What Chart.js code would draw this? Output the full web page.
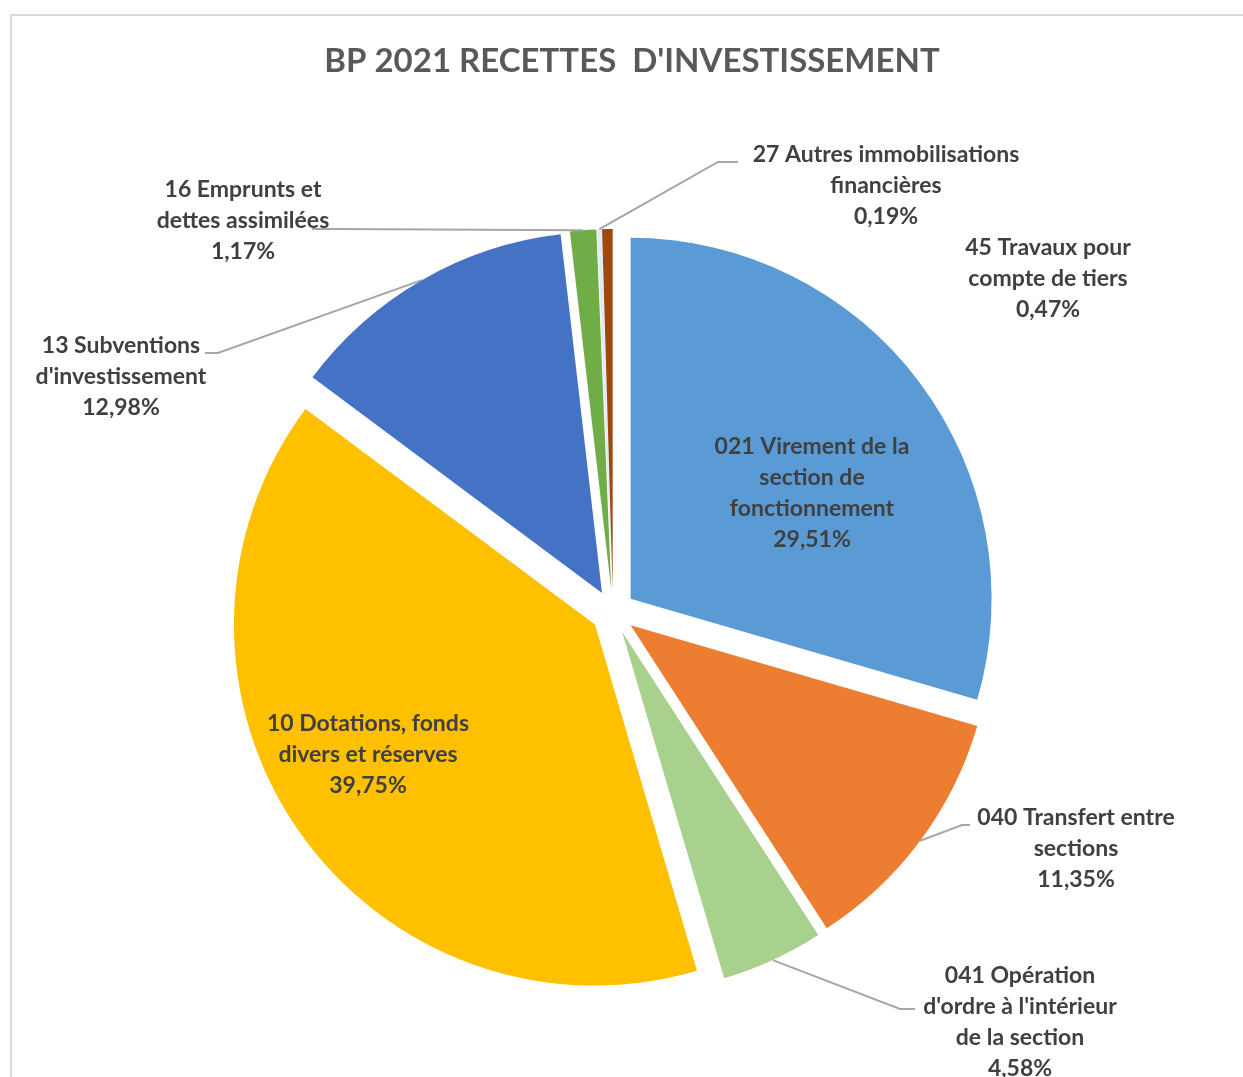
<!DOCTYPE html>
<html lang="fr">
<head>
<meta charset="utf-8">
<title>BP 2021 Recettes d'investissement</title>
<script src="https://cdn.jsdelivr.net/npm/chart.js@4/dist/chart.umd.min.js"></script>
<style>
  html, body { margin: 0; padding: 0; background: #ffffff; }
  #wrap { position: relative; width: 1243px; height: 1077px; }
</style>
</head>
<body>
<div id="wrap"><canvas id="recettesChart"></canvas></div>
<script>
// ---------------------------------------------------------------------------
// Données
// ---------------------------------------------------------------------------
const titre = "BP 2021 RECETTES  D'INVESTISSEMENT";

const categories = [
    "021 Virement de la\nsection de\nfonctionnement",
    "040 Transfert entre\nsections",
    "041 Opération\nd'ordre à l'intérieur\nde la section",
    "10 Dotations, fonds\ndivers et réserves",
    "13 Subventions\nd'investissement",
    "16 Emprunts et\ndettes assimilées",
    "27 Autres immobilisations\nfinancières",
    "45 Travaux pour\ncompte de tiers"
];

const valeurs = [29.51, 11.35, 4.58, 39.75, 12.98, 1.17, 0.19, 0.47];

const couleurs = ['#5B9BD5', '#ED7D31', '#A9D18E', '#FFC000', '#4472C4', '#70AD47', '#DDEBF7', '#9E480E'];

// ---------------------------------------------------------------------------
// Mise en page des étiquettes (texte centré sur x, première ligne à y)
// ---------------------------------------------------------------------------
const EXPLOSION = 22;      // décalage de chaque part (px)
const RAYON = 361;
const INTERLIGNE = 31;

const placement = [
    { x: 812,  y: 447 },
    { x: 1076, y: 818,  coude: [962, 825], fin: [970, 825] },
    { x: 1020, y: 976,  coude: [900, 1009], fin: [915, 1009] },
    { x: 368,  y: 724 },
    { x: 121,  y: 346,  coude: [218, 353], fin: [205, 353] },
    { x: 243,  y: 190,  coude: [335, 229], fin: [312, 229] },
    { x: 886,  y: 155,  coude: [718, 162], fin: [738, 162] },
    { x: 1048, y: 248 }
];

const FONT = 'Lato, "Open Sans", sans-serif';

function formatPct(v, total) {
    return (v / total * 100).toFixed(2).replace('.', ',') + '%';
}

// Cadre + titre
const cadrePlugin = {
    id: 'cadre',
    beforeDraw(chart) {
        const ctx = chart.ctx;
        ctx.save();
        ctx.fillStyle = '#ffffff';
        ctx.fillRect(0, 0, chart.width, chart.height);
        ctx.strokeStyle = '#D9D9D9';
        ctx.lineWidth = 2;
        ctx.strokeRect(11, 15, chart.width + 20, chart.height + 20);
        ctx.fillStyle = '#595959';
        ctx.font = 'bold 33px ' + FONT;
        ctx.textAlign = 'center';
        ctx.textBaseline = 'middle';
        ctx.fillText(titre, 632, 61);
        ctx.restore();
    }
};

// Parts éclatées : chaque arc est dessiné par Chart.js, décalé le long de son angle médian
const explosionPlugin = {
    id: 'explosion',
    beforeDatasetsDraw(chart) {
        const ctx = chart.ctx;
        const meta = chart.getDatasetMeta(0);
        meta.data.forEach(arc => {
            const mid = (arc.startAngle + arc.endAngle) / 2;
            ctx.save();
            ctx.translate(Math.cos(mid) * EXPLOSION, Math.sin(mid) * EXPLOSION);
            arc.draw(ctx);
            ctx.restore();
        });
        return false;
    }
};

// Étiquettes et lignes de repère
const etiquettesPlugin = {
    id: 'etiquettes',
    afterDraw(chart) {
        const ctx = chart.ctx;
        const meta = chart.getDatasetMeta(0);
        const total = valeurs.reduce((a, b) => a + b, 0);
        ctx.save();
        meta.data.forEach((arc, i) => {
            const p = placement[i];
            if (p.coude) {
                const mid = (arc.startAngle + arc.endAngle) / 2;
                const r = arc.outerRadius + EXPLOSION;
                ctx.strokeStyle = '#A6A6A6';
                ctx.lineWidth = 2;
                ctx.beginPath();
                ctx.moveTo(arc.x + Math.cos(mid) * r, arc.y + Math.sin(mid) * r);
                ctx.lineTo(p.coude[0], p.coude[1]);
                ctx.lineTo(p.fin[0], p.fin[1]);
                ctx.stroke();
            }
            const lignes = categories[i].split('\n').concat([formatPct(valeurs[i], total)]);
            ctx.fillStyle = '#404040';
            ctx.font = 'bold 23px ' + FONT;
            ctx.textAlign = 'center';
            ctx.textBaseline = 'middle';
            lignes.forEach((l, k) => ctx.fillText(l, p.x, p.y + k * INTERLIGNE));
        });
        ctx.restore();
    }
};

const chart = new Chart(document.getElementById('recettesChart').getContext('2d'), {
    type: 'pie',
    data: {
        labels: categories,
        datasets: [{
            data: valeurs,
            backgroundColor: couleurs,
            borderWidth: 0,
            radius: RAYON
        }]
    },
    options: {
        responsive: true,
        maintainAspectRatio: false,
        animation: false,
        layout: { padding: { left: 100, right: 117, top: 180, bottom: 33 } },
        plugins: {
            legend: { display: false },
            tooltip: { enabled: false }
        }
    },
    plugins: [cadrePlugin, explosionPlugin, etiquettesPlugin]
});
</script>
</body>
</html>
